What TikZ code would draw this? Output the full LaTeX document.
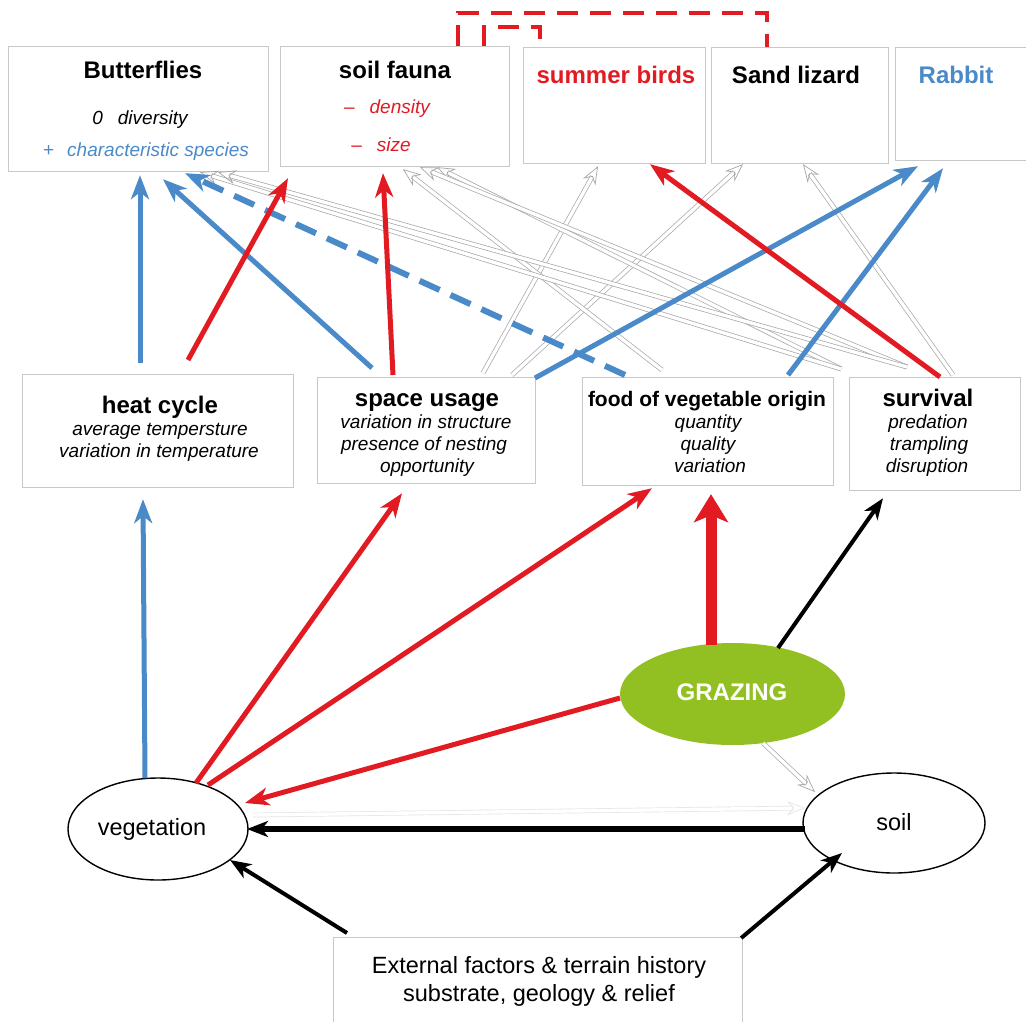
\documentclass[tikz,border=0pt]{standalone}
\usepackage{fontspec}
\setmainfont{Liberation Sans}
\usetikzlibrary{arrows.meta,shapes.geometric}
\definecolor{myblue}{RGB}{75,138,200}
\definecolor{myred}{RGB}{226,27,35}
\definecolor{mygreen}{RGB}{146,192,34}
\definecolor{boxgray}{RGB}{200,200,200}
\begin{document}
\begin{tikzpicture}[x=1pt,y=-1pt,
  box/.style={draw=boxgray, line width=1.2pt, fill=white, inner sep=0pt, anchor=north west},
  oval/.style={ellipse, draw=black, line width=1.4pt, fill=white, inner sep=0pt},
  ttl/.style={font=\fontsize{24}{28}\selectfont\bfseries, anchor=base, inner sep=0pt},
  sub/.style={font=\fontsize{19}{22}\selectfont\itshape, anchor=base, inner sep=0pt},
  lab/.style={font=\fontsize{23.5}{27}\selectfont, anchor=base, inner sep=0pt},
  arrB/.style={draw=myblue, line width=5pt, -{Stealth[length=24pt,width=18pt,inset=7pt]}},
  arrR/.style={draw=myred, line width=5pt, -{Stealth[length=24pt,width=18pt,inset=7pt]}},
  arrK/.style={draw=black, line width=4pt, -{Stealth[length=21pt,width=16pt,inset=6pt]}},
  hollow/.style={draw=gray!70, line width=0.7pt, double=white, double distance=3.4pt,
     -{Stealth[open,length=18pt,width=14pt,inset=6pt]}},
  reddash/.style={draw=myred, line width=4.5pt, dash pattern=on 21pt off 12pt}
]
\useasboundingbox (0,0) rectangle (1026,1021);
\fill[white] (0,0) rectangle (1026,1021);

% ---------- boxes ----------
\node[box, minimum width=260pt, minimum height=125pt] (bf) at (8,46) {};
\node[box, minimum width=229pt, minimum height=120pt] (sf) at (280,46) {};
\node[box, minimum width=182pt, minimum height=116pt] (sb) at (523,47) {};
\node[box, minimum width=177pt, minimum height=116pt] (sl) at (711,47) {};
\node[box, minimum width=140pt, minimum height=113pt] (rb) at (895,47) {};

\node[box, minimum width=271pt, minimum height=113pt] (hc) at (22,374) {};
\node[box, minimum width=218pt, minimum height=106pt] (su) at (317,377) {};
\node[box, minimum width=251pt, minimum height=108pt] (fv) at (582,377) {};
\node[box, minimum width=171pt, minimum height=113pt] (sv) at (849,377) {};

\node[box, minimum width=409pt, minimum height=100pt] (ext) at (333,937) {};

\node[oval, minimum width=180pt, minimum height=102pt] (veg) at (158,829) {};
\node[oval, minimum width=182pt, minimum height=100pt] (soil) at (894,823) {};
\node[ellipse, fill=mygreen, inner sep=0pt, minimum width=225pt, minimum height=102pt] (graz) at (732.5,694) {};

% ---------- texts ----------
\node[ttl] (tbf) at (143,78) {Butterflies};
\node[sub] (tbf1) at (140,124) {0\hspace{15pt}diversity};
\node[sub, text=myblue] (tbf2) at (146,156) {\upshape+\hspace{13pt}\itshape characteristic species};
\node[ttl] (tsf) at (395,78) {soil fauna};
\node[sub, text=myred] (tsf1) at (387,113) {\upshape–\hspace{15pt}\itshape density};
\node[sub, text=myred] (tsf2) at (381,151) {\upshape–\hspace{15pt}\itshape size};
\node[ttl, text=myred] (tsb) at (616,83) {summer birds};
\node[ttl] (tsl) at (796,83) {Sand lizard};
\node[ttl, text=myblue] (trb) at (956,83) {Rabbit};

\node[ttl] (thc) at (160,413) {heat cycle};
\node[sub] (thc1) at (160,435) {average tempersture};
\node[sub] (thc2) at (159,457) {variation in temperature};
\node[ttl] (tsu) at (427,406) {space usage};
\node[sub] (tsu1) at (426,428) {variation in structure};
\node[sub] (tsu2) at (424,450) {presence of nesting};
\node[sub] (tsu3) at (427,472) {opportunity};
\node[ttl, font=\fontsize{21}{25}\selectfont\bfseries] (tfv) at (707,406) {food of vegetable origin};
\node[sub] (tfv1) at (708,428) {quantity};
\node[sub] (tfv2) at (708,450) {quality};
\node[sub] (tfv3) at (710,472) {variation};
\node[ttl] (tsv) at (928,406) {survival};
\node[sub] (tsv1) at (928,428) {predation};
\node[sub] (tsv2) at (929,450) {trampling};
\node[sub] (tsv3) at (927,472) {disruption};

\node[ttl, text=white] (tgz) at (732,700) {GRAZING};
\node[lab] (tveg) at (152,835) {vegetation};
\node[lab] (tsoil) at (894,830) {soil};
\node[lab] (text1) at (539,973) {External factors \& terrain history};
\node[lab] (text2) at (539,1001) {substrate, geology \& relief};

% ---------- grey hollow arrows ----------
\draw[hollow] ([shift={(166,-4)}]su.north west) -- ([shift={(75,2)}]sb.south west);
\draw[hollow] ([shift={(195,-2)}]su.north west) -- ([shift={(32,0)}]sl.south west);
\draw[hollow] ([shift={(80,-7)}]fv.north west) -- ([shift={(123,2)}]sf.south west);
\draw[hollow] ([shift={(7,-8)}]fv.north east) -- ([shift={(157,0)}]sf.south west);
\draw[hollow] ([shift={(58,-10)}]sv.north west) -- ([shift={(140,0)}]sf.south west);
\draw[hollow] ([shift={(7,-8)}]fv.north east) -- ([shift={(192,0)}]bf.south west);
\draw[hollow] ([shift={(58,-10)}]sv.north west) -- ([shift={(210,0)}]bf.south west);
\draw[hollow] ([shift={(104,-2)}]sv.north west) -- ([shift={(92,0)}]sl.south west);
\draw[hollow] ([shift={(30.5,49)}]graz.center) -- ([shift={(-79,-31)}]soil.center);
\draw[hollow, draw=gray!20] ([shift={(95,-14)}]veg.center) -- ([shift={(-89,-15)}]soil.center);

% ---------- blue arrows ----------
\draw[arrB] ([shift={(118,-11)}]hc.north west) -- ([shift={(132,3)}]bf.south west);
\draw[arrB] ([shift={(55,-9)}]su.north west) -- ([shift={(155,7)}]bf.south west);
\draw[arrB, line width=6pt, dash pattern=on 22pt off 12pt] ([shift={(43,-2)}]fv.north west) -- ([shift={(177,1)}]bf.south west);
\draw[arrB] ([shift={(218,1)}]su.north west) -- ([shift={(23,5)}]rb.south west);
\draw[arrB] ([shift={(206,-2)}]fv.north west) -- ([shift={(48,7)}]rb.south west);
\draw[arrB] ([shift={(-13,-51)}]veg.center) -- ([shift={(121,11)}]hc.south west);

% ---------- red arrows ----------
\draw[arrR] ([shift={(166,-14)}]hc.north west) -- ([shift={(8,11)}]sf.south west);
\draw[arrR] ([shift={(76,-2)}]su.north west) -- ([shift={(103,6)}]sf.south west);
\draw[arrR] ([shift={(91,0)}]sv.north west) -- ([shift={(127,0)}]sb.south west);
\draw[arrR] ([shift={(38,-46)}]veg.center) -- ([shift={(85,9)}]su.south west);
\draw[arrR] ([shift={(50,-44)}]veg.center) -- ([shift={(70,2)}]fv.south west);
\draw[arrR] ([shift={(-112.5,4)}]graz.center) -- ([shift={(87,-26)}]veg.center);
\draw[draw=myred, line width=11pt, -{Stealth[length=28pt,width=34pt,inset=7pt]}] ([shift={(-21.5,-49)}]graz.center) -- ([shift={(129,8)}]fv.south west);

% ---------- black arrows ----------
\draw[arrK] ([shift={(45.5,-46)}]graz.center) -- ([shift={(34,7)}]sv.south west);
\draw[arrK, line width=5.5pt] ([shift={(-89,6)}]soil.center) -- ([shift={(89,0)}]veg.center);
\draw[arrK] ([shift={(14,-4)}]ext.north west) -- ([shift={(72,31)}]veg.center);
\draw[arrK] ([shift={(-2,1)}]ext.north east) -- ([shift={(-52,30)}]soil.center);

% ---------- red dashed links ----------
\draw[reddash] ([shift={(178,0)}]sf.north west) -- ++(0,-33) -| ([shift={(56,0)}]sl.north west);
\draw[reddash] ([shift={(204,0)}]sf.north west) -- ++(0,-19) -| ([shift={(17,0)}]sb.north west);
\end{tikzpicture}
\end{document}
